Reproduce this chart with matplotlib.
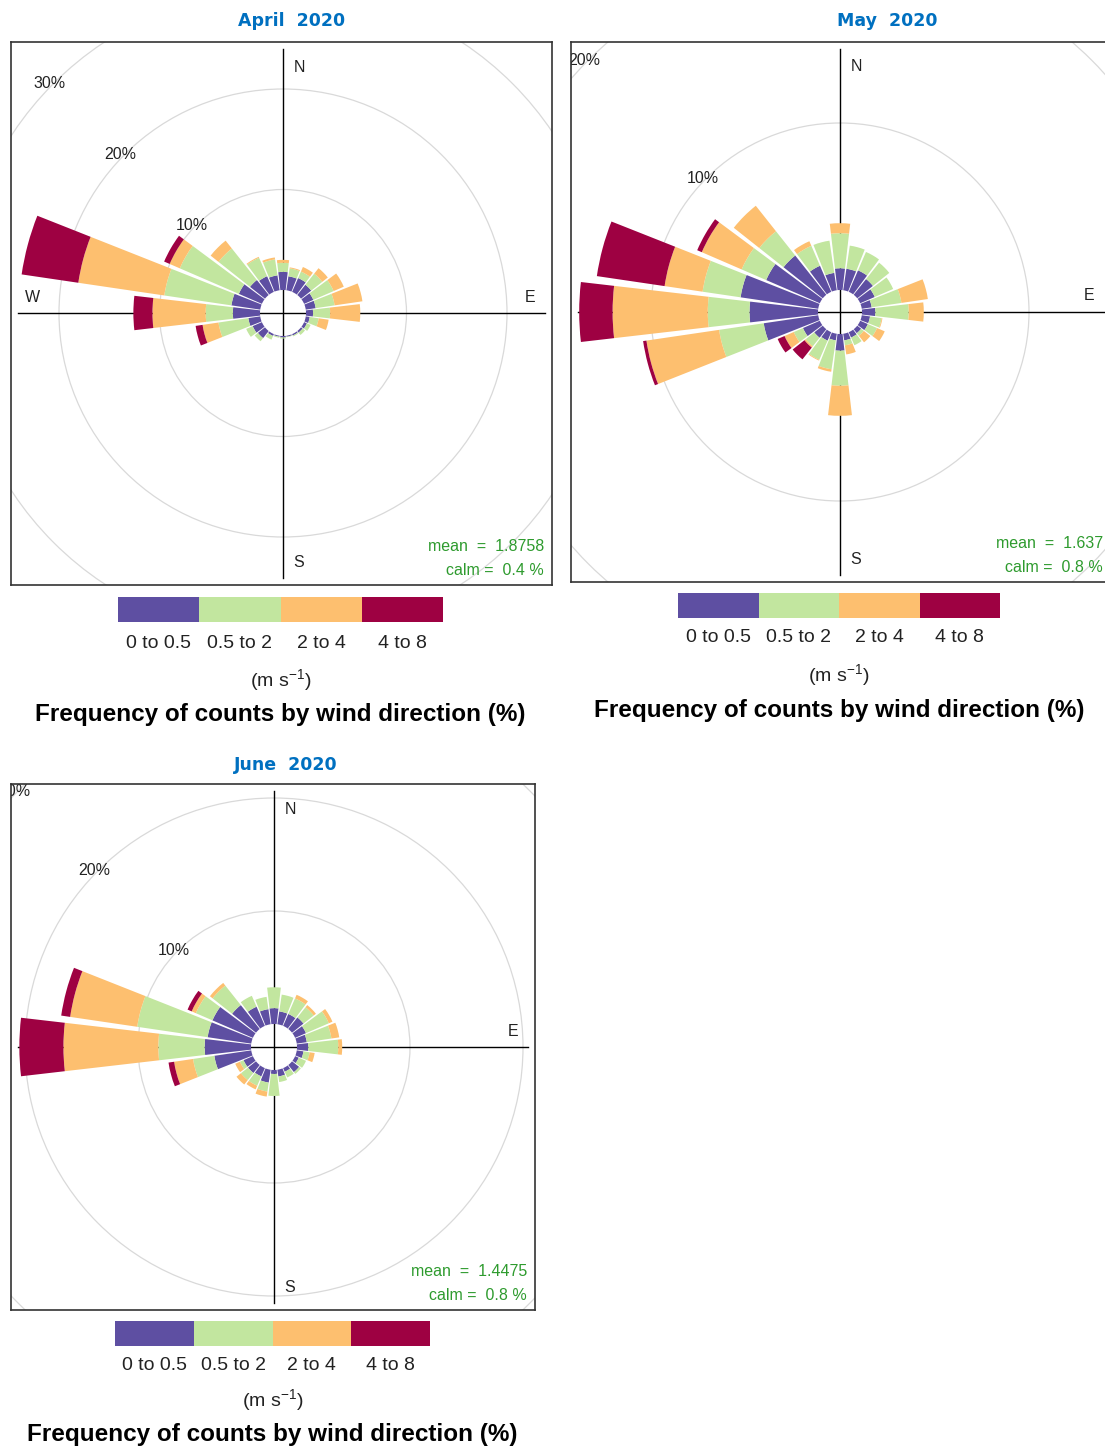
import matplotlib
matplotlib.use("Agg")
import matplotlib.pyplot as plt
from matplotlib.patches import Wedge, Circle

plt.rcParams['font.family'] = ['Liberation Sans', 'DejaVu Sans']
plt.rcParams['mathtext.fontset'] = 'custom'
plt.rcParams['mathtext.rm'] = 'Liberation Sans'
plt.rcParams['mathtext.it'] = 'Liberation Sans'

W, H = 1105, 1450

# ---- data: frequency (%) per 15 degree sector, by wind speed bin ----
directions = list(range(0, 360, 15))
speed_labels = ["0 to 0.5", "0.5 to 2", "2 to 4", "4 to 8"]
speed_colors = ["#5E4FA2", "#C2E69F", "#FDBF6F", "#9E0142"]

apr_0_05 = [1.8, 1.4, 1.5, 1.3, 1.0, 1.0, 0.7, 0.4, 0.3, 0.2, 0.15, 0.1,
            0.15, 0.1, 0.2, 0.9, 1.0, 1.2, 2.7, 2.9, 2.5, 1.9, 1.7, 1.5]
apr_05_2 = [0.9, 0.8, 0.7, 1.4, 2.2, 1.9, 1.7, 0.9, 0.4, 0.3, 0.1, 0.05,
            0.1, 0.1, 0.4, 0.4, 0.7, 3.0, 2.7, 6.75, 6.4, 4.0, 2.0, 1.6]
apr_2_4 = [0.3, 0.1, 0.5, 0.7, 1.1, 2.8, 3.0, 1.0, 0, 0, 0, 0,
           0, 0, 0, 0, 0, 1.6, 5.3, 8.65, 1.1, 1.0, 0.1, 0.2]
apr_4_8 = [0, 0, 0, 0, 0, 0, 0, 0, 0, 0, 0, 0,
           0, 0, 0, 0, 0, 0.7, 1.9, 5.7, 0.6, 0, 0, 0]

may_0_05 = [1.3, 1.3, 1.4, 1.2, 0.95, 0.6, 0.8, 0.5, 0.5, 0.3, 0.35, 0.4,
            1.0, 0.4, 0.55, 0.65, 1.1, 3.3, 4.1, 4.7, 3.5, 3.0, 1.7, 1.05]
may_05_2 = [2.1, 1.4, 1.2, 1.25, 1.2, 1.8, 2.0, 0.7, 0.6, 0.2, 0.5, 0.3,
            2.1, 1.75, 1.25, 0.65, 0.6, 2.7, 2.5, 2.3, 1.6, 1.85, 1.3, 1.95]
may_2_4 = [0.6, 0, 0, 0, 0, 1.6, 0.9, 0.05, 0.5, 0.5, 0, 0.55,
           1.8, 0.15, 0.05, 0.1, 0.6, 4.4, 5.7, 2.3, 2.6, 1.95, 0.3, 0]
may_4_8 = [0, 0, 0, 0, 0, 0, 0, 0, 0, 0, 0, 0,
           0, 0, 0, 0.9, 0.45, 0.2, 2.0, 4.1, 0.3, 0, 0, 0]

jun_0_05 = [1.4, 1.15, 1.15, 1.3, 1.05, 0.9, 1.0, 0.6, 0.35, 0.8, 0.35, 0.6,
            0.35, 1.15, 0.8, 0.9, 0.9, 3.3, 4.1, 3.9, 3.9, 2.7, 1.85, 1.35]
jun_05_2 = [1.85, 1.5, 1.5, 1.15, 2.2, 2.2, 2.65, 0.55, 0.7, 0.2, 0.55, 0.5,
            1.95, 0.8, 0.9, 0.8, 0.35, 1.9, 4.1, 6.3, 1.6, 2.2, 1.05, 1.1]
jun_2_4 = [0, 0, 0.35, 0.25, 0.35, 0.7, 0.35, 0.45, 0, 0, 0, 0,
           0, 0.45, 0.35, 0.5, 0.45, 1.7, 8.4, 6.0, 0.4, 0.3, 0, 0]
jun_4_8 = [0, 0, 0, 0, 0, 0, 0, 0, 0, 0, 0, 0,
           0, 0, 0, 0, 0, 0.5, 3.9, 0.8, 0.4, 0, 0, 0]

titles = ["April  2020", "May  2020", "June  2020"]
means = ["1.8758", "1.637", "1.4475"]
calms = ["0.4", "0.8", "0.8"]
grid_levels = [10, 20, 30, 40]

# ---- layout (pixels) ----
# box (left, top, right, bottom), centre, px per %, hole radius px
panels = [
    dict(box=(11, 42, 552, 585), c=(283, 313), s=10.05, hole=23,
         data=[apr_0_05, apr_05_2, apr_2_4, apr_4_8],
         key=(118, 443, 597, 622), ky=(643, 680, 715), tx=(292, 21)),
    dict(box=(571, 42, 1111, 582), c=(840, 312), s=16.7, hole=22,
         data=[may_0_05, may_05_2, may_2_4, may_4_8],
         key=(678, 1000, 593, 618), ky=(638, 675, 710), tx=(887, 21)),
    dict(box=(11, 784, 535, 1310), c=(274, 1047), s=11.3, hole=23,
         data=[jun_0_05, jun_05_2, jun_2_4, jun_4_8],
         key=(115, 430, 1321, 1346), ky=(1365, 1400, 1435), tx=(286, 765)),
]


def rect(l, t, r, b):
    return [l / W, 1 - b / H, (r - l) / W, (b - t) / H]


fig = plt.figure(figsize=(W / 100, H / 100), dpi=100)

for i, p in enumerate(panels):
    l, t, r, b = p['box']
    cx, cy = p['c']
    s = p['s']
    off = p['hole'] / s
    ax = fig.add_axes(rect(l, t, r, b))
    ax.set_xlim((l - cx) / s, (r - cx) / s)
    ax.set_ylim((cy - b) / s, (cy - t) / s)
    ax.set_xticks([])
    ax.set_yticks([])
    for sp in ax.spines.values():
        sp.set_color('#333333')
        sp.set_linewidth(1.2)
    x0, x1 = ax.get_xlim()
    y0, y1 = ax.get_ylim()

    # grid circles and labels (label only where it falls inside the box)
    for g in grid_levels:
        ax.add_patch(Circle((0, 0), off + g, fill=False, ec='#d9d9d9', lw=0.9, zorder=1))
        rr = (off + g) * 0.7071
        if -rr > x0 and rr < y1:
            ax.text(-rr - 4 / s, rr, f"{g}%", ha='center', va='center', fontsize=11.5,
                    color='#222222', clip_on=True, zorder=2)

    # cross hairs
    ins = 7 / s
    ax.plot([x0 + ins, x1 - ins], [0, 0], color='black', lw=1, zorder=2)
    ax.plot([0, 0], [y0 + ins, y1 - ins], color='black', lw=1, zorder=2)

    # compass labels
    kw = dict(fontsize=11.5, color='#222222', ha='center', va='center', zorder=2)
    ax.text(16 / s, y1 - 25 / s, "N", **kw)
    ax.text(16 / s, y0 + 22 / s, "S", **kw)
    ax.text(x1 - 22 / s, 16 / s, "E", **kw)
    ax.text(x0 + 21 / s, 16 / s, "W", **kw)

    # stacked wedges
    for k, d in enumerate(directions):
        base = off
        for j, col in enumerate(speed_colors):
            v = p['data'][j][k]
            if v <= 0:
                continue
            ax.add_patch(Wedge((0, 0), base + v, 90 - d - 6.6, 90 - d + 6.6,
                               width=v, fc=col, ec='none', zorder=3))
            base += v

    # mean / calm
    ax.text(x1 - 8 / s, y0 + 38 / s, f"mean  =  {means[i]}", ha='right', va='center',
            fontsize=11.5, color='#2E9B2E', zorder=4)
    ax.text(x1 - 8 / s, y0 + 14 / s, f"calm =  {calms[i]} %", ha='right', va='center',
            fontsize=11.5, color='#2E9B2E', zorder=4)

    # title
    fig.text(p['tx'][0] / W, 1 - p['tx'][1] / H, titles[i], ha='center', va='center',
             fontsize=12.5, fontweight='bold', color='#0070C0', family='DejaVu Sans')

    # key
    kx0, kx1, ky0, ky1 = p['key']
    kax = fig.add_axes(rect(kx0, ky0, kx1, ky1))
    kax.bar(range(4), [1] * 4, width=1, align='edge', color=speed_colors)
    kax.set_xlim(0, 4)
    kax.set_ylim(0, 1)
    kax.axis('off')
    step = (kx1 - kx0) / 4
    for j, lab in enumerate(speed_labels):
        fig.text((kx0 + step * (j + 0.5)) / W, 1 - p['ky'][0] / H, lab, ha='center',
                 va='center', fontsize=14, color='#222222')
    fig.text((kx0 + kx1) / 2 / W, 1 - p['ky'][1] / H, r"(m s$^{-1}$)", ha='center',
             va='center', fontsize=14, color='#222222')
    fig.text((kx0 + kx1) / 2 / W, 1 - p['ky'][2] / H,
             "Frequency of counts by wind direction (%)", ha='center', va='center',
             fontsize=17.5, fontweight='bold', color='black')

fig.savefig("out.png", dpi=100)
